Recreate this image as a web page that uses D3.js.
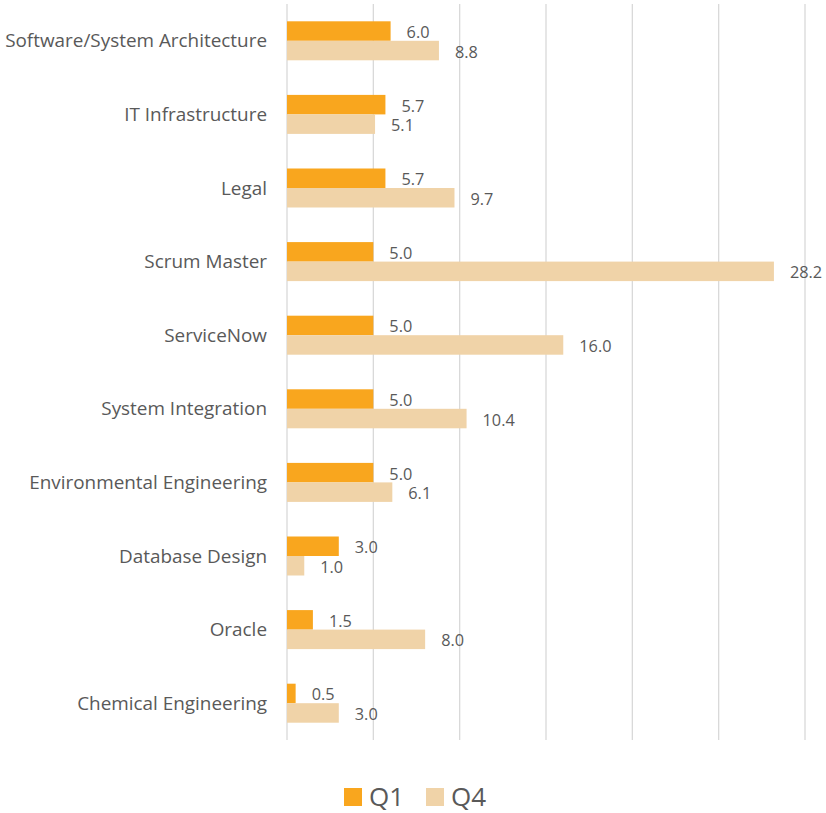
<!DOCTYPE html>
<html><head><meta charset="utf-8">
<script src="https://cdn.jsdelivr.net/npm/d3@7"></script>
<style>body{margin:0;background:#fff}</style>
</head><body>
<svg id="c" width="826" height="813"></svg>
<script>
const categories = ["Software/System Architecture","IT Infrastructure","Legal","Scrum Master","ServiceNow","System Integration","Environmental Engineering","Database Design","Oracle","Chemical Engineering"];
const q1 = [6.0,5.7,5.7,5.0,5.0,5.0,5.0,3.0,1.5,0.5];
const q4 = [8.8,5.1,9.7,28.2,16.0,10.4,6.1,1.0,8.0,3.0];
const seriesNames = ["Q1","Q4"];
const colors = ["#F9A61E","#F0D3A8"];
const xTicks = [0,5,10,15,20,25,30];

(function(){
const svg = d3.select("#c");
const font = "'Open Sans', sans-serif";
const textColor = "#595959";
const pLeft = 287, pRight = 805, pTop = 4, pBottom = 740;

const x = d3.scaleLinear().domain([0,30]).range([pLeft,pRight]);
const y = d3.scaleBand().domain(categories).range([pTop,pBottom]).paddingInner(0.47).paddingOuter(0.235);
const sub = d3.scaleBand().domain(seriesNames).range([0,y.bandwidth()]);

svg.append("g").selectAll("line").data(xTicks).join("line")
  .attr("x1",d=>x(d)).attr("x2",d=>x(d)).attr("y1",pTop).attr("y2",pBottom)
  .attr("stroke","#d9d9d9").attr("stroke-width",1.3);

const data = categories.map((c,i)=>({c, vals:[q1[i],q4[i]]}));
const g = svg.append("g");
data.forEach(d=>{
  d.vals.forEach((v,j)=>{
    const yy = y(d.c)+sub(seriesNames[j]);
    g.append("rect").attr("x",x(0)).attr("y",yy).attr("width",x(v)-x(0)).attr("height",sub.bandwidth()).attr("fill",colors[j]);
    g.append("text").attr("x",x(v)+16).attr("y",yy+sub.bandwidth()/2+1.3).attr("dy","0.35em")
      .attr("font-family",font).attr("font-size",16.3).attr("fill",textColor).text(v.toFixed(1));
  });
});

svg.append("g").selectAll("text").data(categories).join("text")
  .attr("x",267).attr("y",d=>y(d)+y.bandwidth()/2).attr("dy","0.35em").attr("text-anchor","end")
  .attr("font-family",font).attr("font-size",18.9).attr("fill",textColor).text(d=>d);

const leg = svg.append("g");
const legX = [344,426];
seriesNames.forEach((s,j)=>{
  leg.append("rect").attr("x",legX[j]).attr("y",788).attr("width",18).attr("height",18).attr("fill",colors[j]);
  leg.append("text").attr("x",legX[j]+25).attr("y",797).attr("dy","0.35em")
    .attr("font-family",font).attr("font-size",26).attr("fill",textColor).text(s);
});
})();
</script>
</body></html>
